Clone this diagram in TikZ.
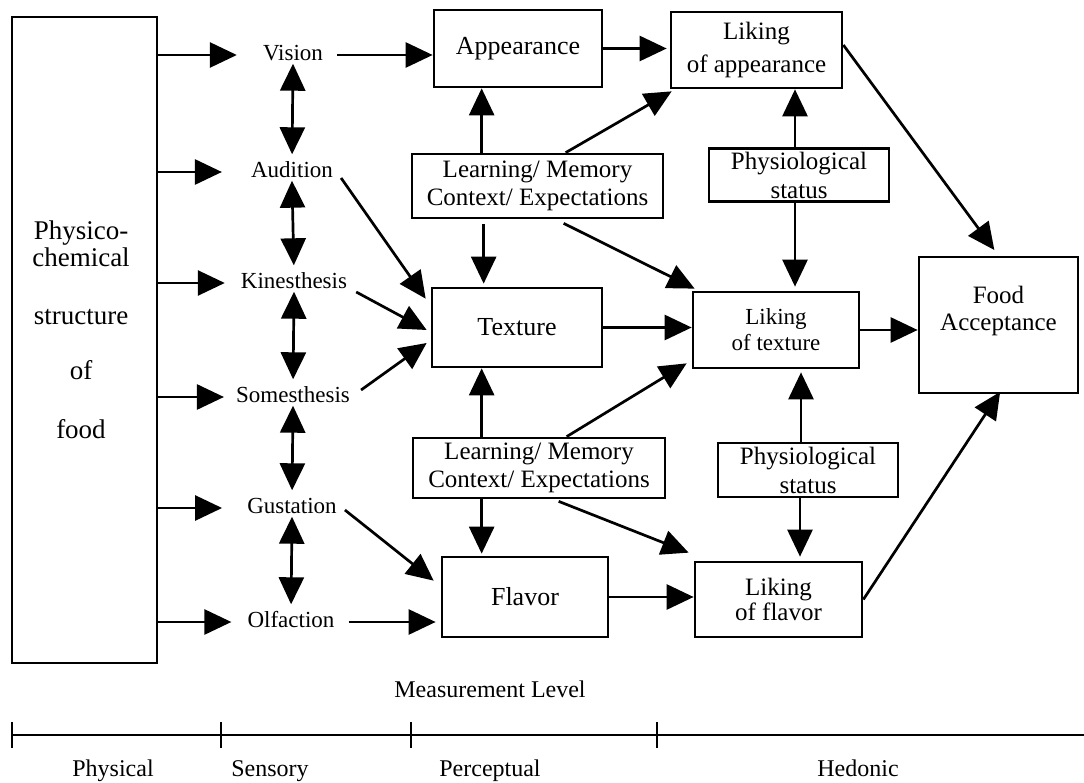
\documentclass[tikz,border=0pt]{standalone}
\usepackage{fontspec}
\setmainfont{Liberation Serif}
\usetikzlibrary{arrows.meta,calc}
\begin{document}
\begin{tikzpicture}[x=1pt,y=-1pt,
  box/.style={draw, line width=2.7pt, inner sep=0pt, align=center},
  sense/.style={inner sep=0pt, text height=15pt, text depth=4pt, font=\fontsize{23}{27}\selectfont},
  tip/.tip={Triangle[length=27pt,width=25pt]},
  arr/.style={line width=2.7pt, -tip},
  dbl/.style={line width=2.7pt, tip-tip, shorten <=-1pt, shorten >=8pt},
  lvl/.style={inner sep=0pt, anchor=base, font=\fontsize{24}{28}\selectfont},
]
\useasboundingbox (0,0) rectangle (1084,783);

% physical stimulus
\node[box, minimum width=145pt, minimum height=646pt] (phys) at (84.5,340) {};
\node[inner sep=0pt, align=center, font=\fontsize{27}{27}\selectfont] (physt) at (81,330)
  {Physico-\\chemical\\[31pt]structure\\[28pt]of\\[32pt]food};

% senses
\node[sense] (vis) at (293,55) {Vision};
\node[sense] (aud) at (292,172) {Audition};
\node[sense] (kin) at (294,283) {Kinesthesis};
\node[sense] (som) at (293,397) {Somesthesis};
\node[sense] (gus) at (292,508) {Gustation};
\node[sense] (olf) at (291,622) {Olfaction};

% perceptual attributes
\node[box, minimum width=168pt, minimum height=77pt, font=\fontsize{26}{30}\selectfont] (app) at (518,48.5) {Appearance};
\node[box, minimum width=170pt, minimum height=79pt, font=\fontsize{26}{30}\selectfont] (tex) at (517,327.5) {Texture};
\node[box, minimum width=166pt, minimum height=80pt, font=\fontsize{26}{30}\selectfont] (flav) at (525,597) {Flavor};
\node[box, minimum width=251pt, minimum height=64pt, font=\fontsize{25}{28}\selectfont] (lrn1) at (537.5,186) {Learning/ Memory\\Context/ Expectations};
\node[box, minimum width=252pt, minimum height=60pt, font=\fontsize{25}{28}\selectfont] (lrn2) at (539,468) {Learning/ Memory\\Context/ Expectations};

% hedonic
\node[box, minimum width=171pt, minimum height=76pt, font=\fontsize{25}{33}\selectfont] (lika) at (756.5,50) {Liking\\of appearance};
\node[box, minimum width=180pt, minimum height=53pt, font=\fontsize{25}{29}\selectfont] (phy1) at (799,175) {Physiological\\status};
\node[box, minimum width=166pt, minimum height=76pt, font=\fontsize{23}{26}\selectfont] (likt) at (776,330) {Liking\\of texture};
\node[box, minimum width=180pt, minimum height=54pt, font=\fontsize{25}{29}\selectfont] (phy2) at (808,470) {Physiological\\status};
\node[box, minimum width=167pt, minimum height=75pt, font=\fontsize{25}{25}\selectfont] (likf) at (778.5,599.5) {Liking\\of flavor};
\node[box, minimum width=159pt, minimum height=136pt] (food) at (998.5,325) {};
\node[inner sep=0pt, align=center, font=\fontsize{25}{27}\selectfont] (foodt) at (998.5,311) {Food\\Acceptance};

% stimulus to senses
\foreach \s/\g in {vis/26,aud/29,kin/16,som/12,gus/25,olf/16}
  \draw[arr, shorten >=\g pt] (phys.east |- \s) -- (\s.west);

% between senses
\draw[dbl] (vis.south) -- (aud.north);
\draw[dbl] (aud.south) -- (kin.north);
\draw[dbl] (kin.south) -- (som.north);
\draw[dbl] (som.south) -- (gus.north);
\draw[dbl] (gus.south) -- (olf.north);

% senses to perceptual attributes
\draw[arr, shorten <=14pt] (vis.east) -- (vis.east -| app.west);
\draw[arr] ($(aud.east)+(8,6)$) -- ($(tex.north west)+(-5,12)$);
\draw[arr] ($(kin.east)+(9,9)$) -- ($(tex.west)+(-4,2.5)$);
\draw[arr] ($(som.east)+(11,-7)$) -- ($(tex.west)+(-4,15.5)$);
\draw[arr] ($(gus.east)+(8,2)$) -- ($(flav.north west)+(-7,25)$);
\draw[arr, shorten <=14pt, shorten >=5pt] (olf.east) -- (olf.east -| flav.west);

% learning / memory influences
\coordinate (l1a) at ($(lrn1.north west)+(71,0)$);
\draw[arr] (l1a) -- (l1a |- app.south);
\draw[arr] ($(lrn1.north west)+(155,0)$) -- ($(lika.south west)+(2,2)$);
\coordinate (l1b) at ($(lrn1.south west)+(73,0)$);
\draw[arr, shorten <=5pt, shorten >=3pt] (l1b) -- (l1b |- tex.north);
\draw[arr] ($(lrn1.south west)+(153,4)$) -- ($(likt.north west)+(3,-2)$);

\coordinate (l2a) at ($(lrn2.north west)+(70,0)$);
\draw[arr] (l2a) -- (l2a |- tex.south);
\draw[arr] ($(lrn2.north west)+(155,0)$) -- ($(likt.south west)+(-5,-6)$);
\coordinate (l2b) at ($(lrn2.south west)+(70,0)$);
\draw[arr, shorten >=2pt] (l2b) -- (l2b |- flav.north);
\draw[arr] ($(lrn2.south west)+(147,2)$) -- ($(likf.north west)+(-5,-8)$);

% perceptual to hedonic
\draw[arr, shorten >=3pt] (app.east) -- (app.east -| lika.west);
\draw[arr] (tex.east) -- (tex.east -| likt.west);
\draw[arr] (flav.east) -- (flav.east -| likf.west);

% physiological status
\coordinate (p1) at ($(phy1.north)+(-4,0)$);
\draw[arr] (p1) -- (p1 |- lika.south);
\coordinate (p1b) at ($(phy1.south)+(-4,0)$);
\draw[arr, shorten >=4pt] (p1b) -- (p1b |- likt.north);
\coordinate (p2) at ($(phy2.north)+(-7,0)$);
\draw[arr, shorten >=3pt] (p2) -- (p2 |- likt.south);
\coordinate (p2b) at ($(phy2.south)+(-8,0)$);
\draw[arr, shorten >=4pt] (p2b) -- (p2b |- likf.north);

% hedonic to acceptance
\draw[arr, shorten >=7pt] ($(lika.east)+(0,-5)$) -- (food.north);
\draw[arr] (likt.east) -- (likt.east -| food.west);
\draw[arr, shorten >=-3pt] (likf.east) -- (food.south);

% measurement level scale
\node[lvl] (mlev) at (490,697) {Measurement Level};
\coordinate (t0) at (12,735);
\coordinate (t1) at (221,735);
\coordinate (t2) at (411,735);
\coordinate (t3) at (657,735);
\coordinate (t4) at (1084,735);
\draw[line width=2.4pt] (t0) -- (t4);
\foreach \t in {t0,t1,t2,t3}
  \draw[line width=1.6pt] ($(\t)+(0,-13)$) -- ($(\t)+(0,13)$);
\node[lvl] (lphys) at (113,776) {Physical};
\node[lvl] (lsens) at (270,776) {Sensory};
\node[lvl] (lperc) at (490,776) {Perceptual};
\node[lvl] (lhed) at (858,776) {Hedonic};
\end{tikzpicture}
\end{document}
